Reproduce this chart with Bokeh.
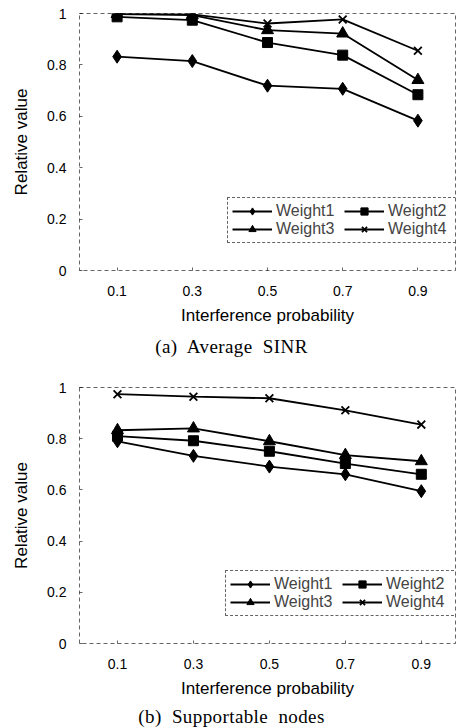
from bokeh.plotting import figure
from bokeh.models import Range1d, FixedTicker, Legend, LegendItem, Div
from bokeh.layouts import column
from bokeh.embed import file_html
from bokeh.resources import INLINE

# ---- data ----
x_vals = [0.1, 0.3, 0.5, 0.7, 0.9]
x_tick_labels = ["0.1", "0.3", "0.5", "0.7", "0.9"]
y_ticks = [0, 0.2, 0.4, 0.6, 0.8, 1.0]
y_tick_labels = ["0", "0.2", "0.4", "0.6", "0.8", "1"]
series_names = ["Weight1", "Weight2", "Weight3", "Weight4"]
x_title = "Interference probability"
y_title = "Relative value"
caption_a = "(a)&nbsp; Average&nbsp; SINR"
caption_b = "(b)&nbsp; Supportable&nbsp; nodes"

sinr_w1 = [0.832, 0.815, 0.719, 0.707, 0.583]
sinr_w2 = [0.987, 0.974, 0.887, 0.838, 0.684]
sinr_w3 = [0.998, 0.994, 0.935, 0.922, 0.741]
sinr_w4 = [1.000, 0.997, 0.961, 0.977, 0.855]

nodes_w1 = [0.790, 0.733, 0.691, 0.661, 0.595]
nodes_w2 = [0.810, 0.792, 0.751, 0.703, 0.661]
nodes_w3 = [0.833, 0.840, 0.790, 0.736, 0.712]
nodes_w4 = [0.974, 0.964, 0.958, 0.911, 0.855]

markers = ["diamond", "square", "triangle", "x"]
marker_sizes = [13, 10, 12, 11]

FONT = "Liberation Sans"


def make_chart(series, border_left, border_right, border_top, border_bottom, height, x_end, legend_loc):
    p = figure(width=463, height=height,
               x_range=Range1d(0, x_end), y_range=Range1d(0, 1),
               output_backend="svg", toolbar_location=None,
               min_border_left=border_left, min_border_right=border_right,
               min_border_top=border_top, min_border_bottom=border_bottom)
    p.background_fill_color = "white"
    p.border_fill_color = "white"
    p.grid.visible = False
    p.outline_line_color = "black"
    p.outline_line_dash = "4 3"
    p.outline_line_alpha = 0.6
    p.outline_line_width = 1

    items = []
    for name, ys, m, ms in zip(series_names, series, markers, marker_sizes):
        r1 = p.line(x_vals, ys, line_color="black", line_width=1.8)
        r2 = p.scatter(x_vals, ys, marker=m, size=ms, fill_color="black",
                       line_color="black", line_width=1.8 if m == "x" else 1)
        items.append(LegendItem(label=name, renderers=[r1, r2]))

    for ax in (p.xaxis[0], p.yaxis[0]):
        ax.axis_line_color = None
        ax.major_tick_in = 3
        ax.major_tick_out = 0
        ax.minor_tick_line_color = None
        ax.major_tick_line_color = "black"
        ax.major_tick_line_alpha = 0.6
        ax.major_label_text_font = FONT
        ax.major_label_text_font_size = "14px"
        ax.major_label_text_color = "black"
        ax.axis_label_text_font = FONT
        ax.axis_label_text_font_size = "17px"
        ax.axis_label_text_font_style = "normal"
        ax.axis_label_text_color = "black"

    p.xaxis.ticker = FixedTicker(ticks=x_vals)
    p.xaxis.major_label_overrides = {v: l for v, l in zip(x_vals, x_tick_labels)}
    p.xaxis.major_label_standoff = 15
    p.xaxis.axis_label = x_title
    p.xaxis.axis_label_standoff = 7

    p.yaxis.ticker = FixedTicker(ticks=y_ticks)
    p.yaxis.major_label_overrides = {v: l for v, l in zip(y_ticks, y_tick_labels)}
    p.yaxis.major_label_standoff = 13
    p.yaxis.axis_label = y_title
    p.yaxis.axis_label_standoff = 13

    legend = Legend(items=items, location=legend_loc, orientation="horizontal", ncols=2,
                    glyph_width=40, glyph_height=18, label_height=18, label_standoff=4,
                    label_width=68, spacing=0, padding=4, margin=0,
                    label_text_font=FONT, label_text_font_size="16px",
                    border_line_color="black", border_line_dash="3 3",
                    border_line_alpha=0.6, background_fill_alpha=0)
    p.add_layout(legend)
    return p


pa = make_chart([sinr_w1, sinr_w2, sinr_w3, sinr_w4], 74, 8, 13, 60, 330, 1.0, (148, 27))
pb = make_chart([nodes_w1, nodes_w2, nodes_w3, nodes_w4], 79, 6, 22, 57, 335, 0.99, (146, 27))

cap_style = "font-family:'Liberation Serif';font-size:19px;letter-spacing:0.4px;text-align:center;width:463px;line-height:20px;"
da = Div(text=f"<div style=\"{cap_style}padding-top:7px\">{caption_a}</div>", width=463, height=35, margin=0)
db = Div(text=f"<div style=\"{cap_style}padding-top:7px\">{caption_b}</div>", width=463, height=28, margin=0)

layout = column(pa, da, pb, db, spacing=0)
open("out.html", "w").write(file_html(layout, INLINE))
